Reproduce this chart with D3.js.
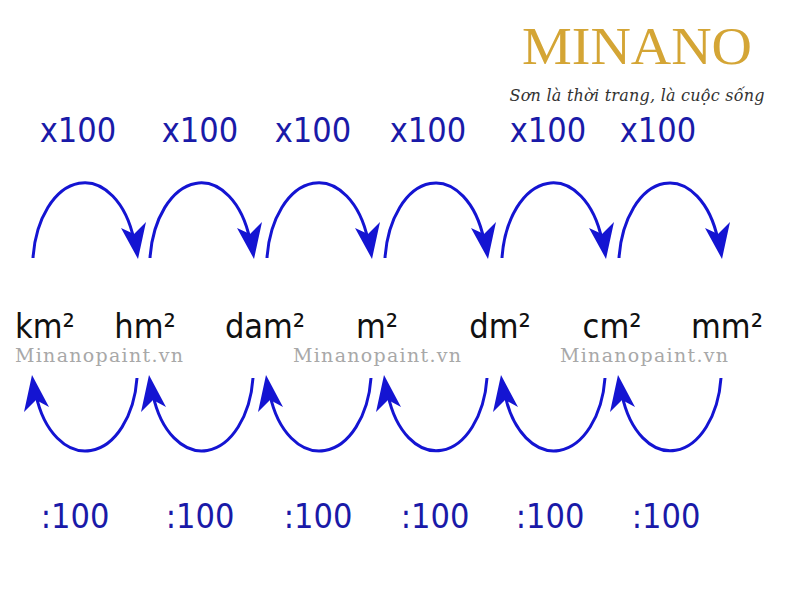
<!DOCTYPE html><html><head><meta charset="utf-8"><script src="https://cdn.jsdelivr.net/npm/d3@7"></script>
<style>body{margin:0;background:#fff}</style></head><body><svg id="c" width="800" height="600"></svg>
<script>
const units=["km²","hm²","dam²","m²","dm²","cm²","mm²"];
const unitX=[45,145,265,377,500,612,727];
const mulLabels=["x100","x100","x100","x100","x100","x100"];
const mulX=[78,200,313,428,548,658];
const divLabels=[":100",":100",":100",":100",":100",":100"];
const divX=[75,200,318,435,550,666];
const arcStart=[33,150,267,385,502,619];
const arcEnd=[137,253,371,487,605,721];
const watermarks=[15,293,560];

const svg=d3.select("#c");
const x=d3.scaleLinear().domain([0,800]).range([0,800]);
const blue="#1414d2";
svg.append("rect").attr("width",800).attr("height",600).attr("fill","#fff");

svg.append("text").attr("x",637).attr("y",64).attr("text-anchor","middle").attr("font-family","Liberation Serif").attr("font-size",52).attr("textLength",230).attr("lengthAdjust","spacingAndGlyphs").attr("fill","#d4a535").text("MINANO");
svg.append("text").attr("x",637).attr("y",101).attr("text-anchor","middle").attr("font-family","DejaVu Serif").attr("font-style","italic").attr("font-size",16).attr("textLength",255).attr("fill","#333").text("Sơn là thời trang, là cuộc sống");

const cond="'DejaVu Sans Condensed','Liberation Sans Narrow',sans-serif";
svg.selectAll(".mul").data(mulLabels).join("text").attr("x",(d,i)=>x(mulX[i])).attr("y",142).attr("text-anchor","middle").attr("font-family",cond).attr("font-size",34).attr("fill","#1a1aa8").text(d=>d);
svg.selectAll(".div").data(divLabels).join("text").attr("x",(d,i)=>x(divX[i])).attr("y",528).attr("text-anchor","middle").attr("font-family",cond).attr("font-size",34).attr("fill","#1a1aa8").text(d=>d);
svg.selectAll(".u").data(units).join("text").attr("x",(d,i)=>x(unitX[i])).attr("y",338).attr("text-anchor","middle").attr("font-family",cond).attr("font-size",34).attr("fill","#111").text(d=>d);

arcStart.forEach((s,i)=>{
  const a=x(s),b=x(arcEnd[i]);
  const rx=(b-a)/2;
  svg.append("path").attr("d",`M${a},258 A${rx},84 0 0 1 ${b-3},240`).attr("fill","none").attr("stroke",blue).attr("stroke-width",3);
  svg.append("path").attr("d",`M${b-16},228 L${b+1},259 L${b+9},222 L${b-3},234 Z`).attr("fill",blue);
  svg.append("path").attr("d",`M${b},378 A${rx},82 0 0 1 ${a+3},395`).attr("fill","none").attr("stroke",blue).attr("stroke-width",3);
  svg.append("path").attr("d",`M${a-9},412 L${a-1},375 L${a+16},407 L${a+3},400 Z`).attr("fill",blue);
});

svg.selectAll(".wm").data(watermarks).join("text").attr("x",d=>x(d)).attr("y",362).attr("font-family","DejaVu Serif").attr("font-size",19).attr("textLength",168).attr("fill","#a8a8a8").text("Minanopaint.vn");
</script></body></html>
